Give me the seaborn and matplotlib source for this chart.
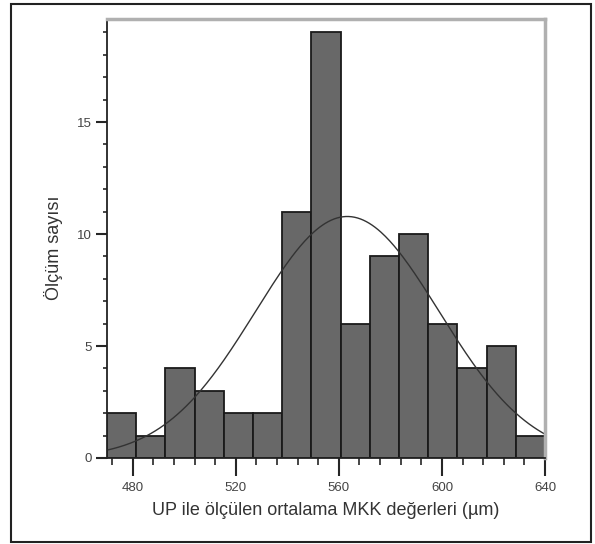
#histogram of mean MKK values measured with UP, with fitted normal curve
import numpy as np
import pandas as pd
import matplotlib
matplotlib.use('Agg')
import matplotlib.pyplot as plt
from matplotlib.patches import Rectangle
from matplotlib.ticker import MultipleLocator
import seaborn as sns

sns.set_style('ticks')
plt.rcParams['font.family'] = ['Liberation Sans', 'DejaVu Sans']

# data
bin_start = 470
bin_end = 640
counts = [2, 1, 4, 3, 2, 2, 11, 19, 6, 9, 10, 6, 4, 5, 1]
x_ticks = [480, 520, 560, 600, 640]
y_ticks = [0, 5, 10, 15]
x_label = 'UP ile ölçülen ortalama MKK değerleri (µm)'
y_label = 'Ölçüm sayısı'

edges = np.linspace(bin_start, bin_end, len(counts) + 1)
centers = (edges[:-1] + edges[1:]) / 2
width = edges[1] - edges[0]
df = pd.DataFrame({'mkk': centers, 'n': counts})

#normal curve fitted on the grouped values
n_tot = df.n.sum()
mean = (df.mkk * df.n).sum() / n_tot
sd = np.sqrt(((df.mkk - mean)**2 * df.n).sum() / (n_tot - 1))
xs = np.linspace(bin_start, bin_end, 300)
ys = n_tot * width / (sd * np.sqrt(2 * np.pi)) * np.exp(-0.5 * ((xs - mean) / sd)**2)

fig = plt.figure(figsize=(5.95, 5.44), dpi=100)
ax = fig.add_axes([107/595, 1 - 458/544, (545 - 107)/595, (458 - 19)/544])

sns.histplot(data=df, x='mkk', weights='n', bins=edges.tolist(), color='#686868', alpha=1,
             edgecolor='#1a1a1a', linewidth=1.3, ax=ax)
sns.lineplot(x=xs, y=ys, color='#333333', lw=1, ax=ax)

ax.set_xlim(bin_start, bin_end)
ax.set_ylim(0, 19.6)
ax.set_xticks(x_ticks)
ax.set_yticks(y_ticks)
ax.xaxis.set_minor_locator(MultipleLocator(8))
ax.yaxis.set_minor_locator(MultipleLocator(1))
ax.tick_params(axis='x', which='major', length=13, width=1.5, labelsize=9.5, pad=4, labelcolor='#444444')
ax.tick_params(axis='x', which='minor', length=5, width=1.2)
ax.tick_params(axis='y', which='major', length=8, width=1.5, labelsize=9.5, pad=3, labelcolor='#444444')
ax.tick_params(axis='y', which='minor', length=3, width=1.2)

for s in ['left', 'bottom']:
    ax.spines[s].set_color('#222222')
    ax.spines[s].set_linewidth(1.3)
for s in ['top', 'right']:
    ax.spines[s].set_visible(True)
    ax.spines[s].set_color('#b0b0b0')
    ax.spines[s].set_linewidth(2.5)

ax.set_xlabel(x_label, fontsize=13, color='#333333', labelpad=6)
ax.set_ylabel(y_label, fontsize=13, color='#333333')
ax.yaxis.set_label_coords(-0.1, 0.48)

#outer frame round the figure
fig.patches.append(Rectangle((11/595, 1 - 542/544), 580/595, 538/544, transform=fig.transFigure,
                             fill=False, edgecolor='#222222', lw=1.5))

plt.savefig('out.png', dpi=100)
